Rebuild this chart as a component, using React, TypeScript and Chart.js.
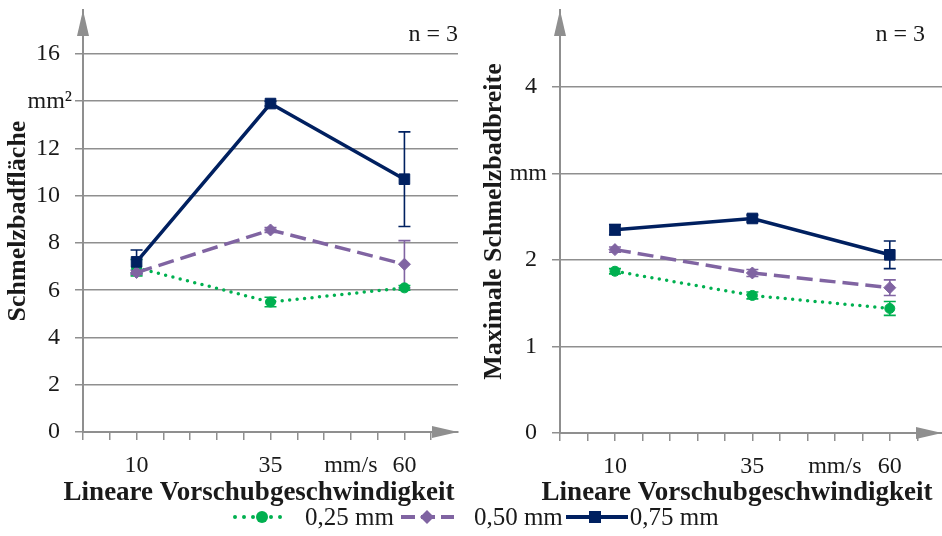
import React, { useEffect, useRef } from 'react';
import { Chart, registerables } from 'chart.js';

Chart.register(...registerables);

// ---------- data ----------
const SPEEDS = [10, 35, 60];
const SERIES_LABELS = ['0,25 mm', '0,50 mm', '0,75 mm'];

const AREA_025 = [6.95, 5.5, 6.1];
const AREA_025_ERR = [0.35, 0.2, 0.1];
const AREA_050 = [6.75, 8.55, 7.1];
const AREA_050_ERR = [0.1, 0.1, 1.0];
const AREA_075 = [7.2, 13.9, 10.7];
const AREA_075_ERR = [0.5, 0.1, 2.0];

const WIDTH_025 = [1.87, 1.59, 1.44];
const WIDTH_025_ERR = [0.03, 0.04, 0.08];
const WIDTH_050 = [2.12, 1.85, 1.68];
const WIDTH_050_ERR = [0.03, 0.04, 0.09];
const WIDTH_075 = [2.35, 2.48, 2.06];
const WIDTH_075_ERR = [0.06, 0.04, 0.16];

const AREA_TICKS = [0, 2, 4, 6, 8, 10, 12, 14, 16];
const AREA_TICK_LABELS = ['0', '2', '4', '6', '8', '10', '12', '', '16'];
const WIDTH_TICKS = [0, 1, 2, 3, 4];
const WIDTH_TICK_LABELS = ['0', '1', '2', '', '4'];
const X_TICKS = [0, 5, 10, 15, 20, 25, 30, 35, 40, 45, 50, 55, 60, 65];
const X_TICK_LABELS = ['', '', '10', '', '', '', '', '35', '', '', 'mm/s', '', '60', ''];
const X_TITLE = 'Lineare Vorschubgeschwindigkeit';

// ---------- styles ----------
const FONT = "'Liberation Serif', 'Times New Roman', serif";
const GRAY = '#8f8f8f';
const TEXT = '#1a1a1a';
const GREEN = '#00b050';
const PURPLE = '#8064a2';
const NAVY = '#002060';

const errorBarsPlugin = {
  id: 'errorBars',
  beforeDatasetsDraw(chart: any) {
    const { ctx } = chart;
    const xs = chart.scales.x;
    const ys = chart.scales.y;
    chart.data.datasets.forEach((ds: any) => {
      const errs: number[] = ds.errors || [];
      ctx.save();
      ctx.strokeStyle = ds.borderColor;
      ctx.lineWidth = 1.6;
      ctx.setLineDash([]);
      ds.data.forEach((p: any, j: number) => {
        const e = errs[j];
        if (!e) return;
        const x = xs.getPixelForValue(p.x);
        const yt = ys.getPixelForValue(p.y + e);
        const yb = ys.getPixelForValue(p.y - e);
        ctx.beginPath();
        ctx.moveTo(x, yt);
        ctx.lineTo(x, yb);
        ctx.moveTo(x - 6, yt);
        ctx.lineTo(x + 6, yt);
        ctx.moveTo(x - 6, yb);
        ctx.lineTo(x + 6, yb);
        ctx.stroke();
      });
      ctx.restore();
    });
  },
};

const decorPlugin = {
  id: 'decor',
  afterDraw(chart: any, _args: any, opts: any) {
    const { ctx, chartArea } = chart;
    const ys = chart.scales.y;
    const xAxisY = chartArea.bottom;
    ctx.save();
    ctx.fillStyle = GRAY;
    // x arrow
    ctx.beginPath();
    ctx.moveTo(chartArea.right, xAxisY);
    ctx.lineTo(chartArea.right - 26, xAxisY - 6);
    ctx.lineTo(chartArea.right - 26, xAxisY + 6);
    ctx.closePath();
    ctx.fill();
    // y arrow
    ctx.beginPath();
    ctx.moveTo(chartArea.left, chartArea.top);
    ctx.lineTo(chartArea.left - 6, chartArea.top + 26);
    ctx.lineTo(chartArea.left + 6, chartArea.top + 26);
    ctx.closePath();
    ctx.fill();
    // n = 3
    ctx.fillStyle = TEXT;
    ctx.font = `24px ${FONT}`;
    ctx.textAlign = 'right';
    ctx.textBaseline = 'middle';
    ctx.fillText('n = 3', opts.nRight, 35);
    // unit label on y
    ctx.fillText(opts.unitText, opts.unitRight, ys.getPixelForValue(opts.unitValue));
    // x title
    ctx.font = `bold 27px ${FONT}`;
    ctx.textAlign = 'center';
    ctx.textBaseline = 'alphabetic';
    ctx.fillText(X_TITLE, opts.titleCenter, 500);
    ctx.restore();
  },
};

function makeConfig(p: any) {
  const mk = (label: string, ys: number[], errs: number[], color: string, extra: any) => ({
    label,
    data: SPEEDS.map((s, i) => ({ x: s, y: ys[i] })),
    errors: errs,
    borderColor: color,
    backgroundColor: color,
    pointBackgroundColor: color,
    pointBorderColor: color,
    borderWidth: 3.5,
    tension: 0,
    ...extra,
  });
  return {
    type: 'line',
    data: {
      datasets: [
        mk(SERIES_LABELS[2], p.s075, p.e075, NAVY, {
          order: 0, pointStyle: 'rect', pointRadius: 7.5, pointBorderWidth: 1,
        }),
        mk(SERIES_LABELS[1], p.s050, p.e050, PURPLE, {
          order: 1, pointStyle: 'rectRot', pointRadius: 6, pointBorderWidth: 1, borderDash: [16, 7],
        }),
        mk(SERIES_LABELS[0], p.s025, p.e025, GREEN, {
          order: 2, pointStyle: 'circle', pointRadius: 5, pointBorderWidth: 1,
          borderDash: [0, 7.5], borderCapStyle: 'round',
        }),
      ],
    },
    options: {
      responsive: false,
      animation: false,
      devicePixelRatio: 1,
      layout: { autoPadding: false, padding: { top: 10, right: p.padRight, left: 0, bottom: 0 } },
      plugins: {
        legend: { display: false },
        tooltip: { enabled: false },
        decor: {
          nRight: p.nRight, unitText: p.unitText, unitValue: p.unitValue, unitRight: p.unitRight,
          titleCenter: p.titleCenter,
        },
      },
      scales: {
        x: {
          type: 'linear',
          min: 0,
          max: p.xMax,
          afterBuildTicks: (s: any) => { s.ticks = X_TICKS.map((v) => ({ value: v })); },
          afterFit: (s: any) => { s.height = 76 - p.bottomShift; s.paddingLeft = 0; s.paddingRight = 0; },
          ticks: {
            autoSkip: false,
            maxRotation: 0,
            padding: 11,
            color: TEXT,
            font: { family: FONT, size: 24 },
            callback: (_v: any, i: number) => X_TICK_LABELS[i],
          },
          grid: { drawOnChartArea: false, drawTicks: true, tickLength: 8, color: GRAY, lineWidth: 1.5 },
          border: { display: true, color: GRAY, width: 2 },
          title: { display: false },
        },
        y: {
          type: 'linear',
          min: 0,
          max: p.yMax,
          afterBuildTicks: (s: any) => { s.ticks = p.yTicks.map((v: number) => ({ value: v })); },
          afterFit: (s: any) => { s.width = p.yWidth; s.paddingTop = 0; s.paddingBottom = 0; },
          ticks: {
            padding: 15,
            color: TEXT,
            font: { family: FONT, size: 24 },
            callback: (_v: any, i: number) => p.yLabels[i],
          },
          grid: { color: GRAY, lineWidth: 1.5, tickLength: 8, drawTicks: true },
          border: { display: true, color: GRAY, width: 2 },
          title: {
            display: true,
            text: p.yTitle,
            color: TEXT,
            font: { family: FONT, size: 26, weight: 'bold' },
            padding: { top: p.yTitlePad, bottom: 0 },
          },
        },
      },
    },
    plugins: [errorBarsPlugin, decorPlugin],
  };
}

const LEFT_PARAMS = {
  s025: AREA_025, e025: AREA_025_ERR, s050: AREA_050, e050: AREA_050_ERR, s075: AREA_075, e075: AREA_075_ERR,
  yMax: 17.86, yTicks: AREA_TICKS, yLabels: AREA_TICK_LABELS, yTitle: 'Schmelzbadfläche',
  yWidth: 83, yTitlePad: 3, xMax: 70, padRight: 12, bottomShift: 0,
  nRight: 458, unitText: 'mm²', unitValue: 14, unitRight: 72, titleCenter: 259,
};

const RIGHT_PARAMS = {
  s025: WIDTH_025, e025: WIDTH_025_ERR, s050: WIDTH_050, e050: WIDTH_050_ERR, s075: WIDTH_075, e075: WIDTH_075_ERR,
  yMax: 4.89, yTicks: WIDTH_TICKS, yLabels: WIDTH_TICK_LABELS, yTitle: 'Maximale Schmelzbadbreite',
  yWidth: 90, yTitlePad: 9, xMax: 69.5, padRight: 0, bottomShift: 1,
  nRight: 455, unitText: 'mm', unitValue: 3, unitRight: 77, titleCenter: 267,
};

function LegendItem({ kind }: { kind: string }) {
  if (kind === 'green') {
    return (
      <svg width={58} height={20}>
        <line x1={3} y1={10} x2={56} y2={10} stroke={GREEN} strokeWidth={4} strokeDasharray="0 9" strokeLinecap="round" />
        <circle cx={30} cy={10} r={6} fill={GREEN} />
      </svg>
    );
  }
  if (kind === 'purple') {
    return (
      <svg width={53} height={20}>
        <line x1={0} y1={10} x2={53} y2={10} stroke={PURPLE} strokeWidth={4} strokeDasharray="14 6" />
        <polygon points="26,3 33,10 26,17 19,10" fill={PURPLE} />
      </svg>
    );
  }
  return (
    <svg width={62} height={20}>
      <line x1={0} y1={10} x2={62} y2={10} stroke={NAVY} strokeWidth={4} />
      <rect x={23} y={4} width={12} height={12} fill={NAVY} />
    </svg>
  );
}

export default function App() {
  const leftRef = useRef<HTMLCanvasElement>(null);
  const rightRef = useRef<HTMLCanvasElement>(null);

  useEffect(() => {
    const c1 = new Chart(leftRef.current as any, makeConfig(LEFT_PARAMS) as any);
    const c2 = new Chart(rightRef.current as any, makeConfig(RIGHT_PARAMS) as any);
    return () => { c1.destroy(); c2.destroy(); };
  }, []);

  const textStyle: React.CSSProperties = {
    fontFamily: FONT, fontSize: 25, color: TEXT, lineHeight: '20px', whiteSpace: 'nowrap',
  };

  return (
    <div style={{ position: 'absolute', left: 0, top: 0, width: 942, height: 536, background: '#fff', overflow: 'hidden' }}>
      <canvas ref={leftRef} width={470} height={508} style={{ position: 'absolute', left: 0, top: 0, width: 470, height: 508 }} />
      <canvas ref={rightRef} width={472} height={508} style={{ position: 'absolute', left: 470, top: 0, width: 472, height: 508 }} />
      <div style={{ position: 'absolute', left: 232, top: 507, height: 20, display: 'flex', alignItems: 'center' }}>
        <LegendItem kind="green" />
        <span style={{ ...textStyle, marginLeft: 15 }}>{SERIES_LABELS[0]}</span>
        <span style={{ marginLeft: 7, display: 'flex' }}><LegendItem kind="purple" /></span>
        <span style={{ ...textStyle, marginLeft: 20 }}>{SERIES_LABELS[1]}</span>
        <span style={{ marginLeft: 3, display: 'flex' }}><LegendItem kind="navy" /></span>
        <span style={{ ...textStyle, marginLeft: 2 }}>{SERIES_LABELS[2]}</span>
      </div>
    </div>
  );
}
